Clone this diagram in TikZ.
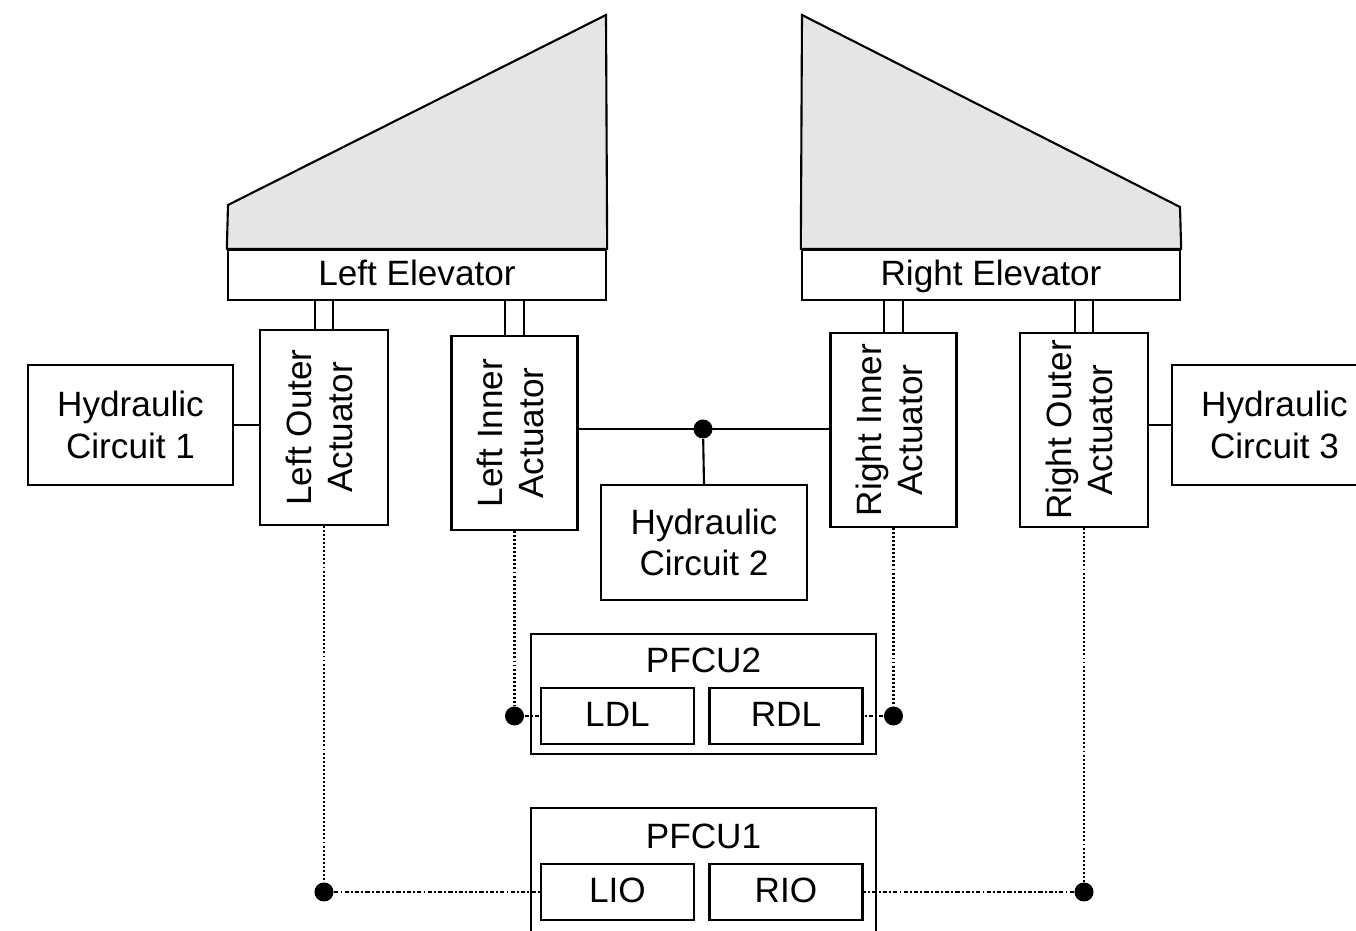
\documentclass[tikz,border=0pt]{standalone}
\usepackage{fontspec}
\setmainfont{Liberation Sans}
\usetikzlibrary{positioning,calc}

\newcommand{\vtext}[1]{\rotatebox{90}{\begin{tabular}{@{}c@{}}#1\end{tabular}}}

\begin{document}
\begin{tikzpicture}[x=0.01cm,y=-0.01cm,
	box/.style={draw, line width=0.6pt, align=center, inner sep=0pt, font=\fontsize{10}{11.7}\selectfont},
	act/.style={box, minimum width=1.26cm, minimum height=1.94cm},
	hyd/.style={box, minimum width=2.05cm, minimum height=1.2cm},
	elev/.style={box, minimum width=3.78cm, minimum height=0.5cm, text height=7.4pt, text depth=1.6pt},
	unit/.style={box, minimum width=1.53cm, minimum height=0.56cm, text height=7.4pt, text depth=1.6pt},
	txt/.style={inner sep=0pt, font=\fontsize{10}{11.7}\selectfont},
	dot/.style={circle, fill, inner sep=0pt, minimum size=1.9mm},
	rod/.style={double, double distance=1.6mm, line width=0.6pt},
	wire/.style={line width=0.6pt},
	sig/.style={line width=0.6pt, dash pattern=on 0.55pt off 0.6pt},
	bus/.style={line width=0.6pt, dash pattern=on 1.2pt off 0.6pt on 0.55pt off 0.6pt}]
	\clip (0,0) rectangle (1356,931);

	% elevators
	\node[elev] (LE) at (417,275) {Left Elevator};
	\node[elev] (RE) at (991,275) {Right Elevator};
	\draw[wire, fill=gray!20] (LE.north west) -- (228,205) -- (606,15) -- (LE.north east) -- cycle;
	\draw[wire, fill=gray!20] (RE.north west) -- (802,15) -- (1180,207) -- (RE.north east) -- cycle;

	% actuators
	\node[act, minimum width=1.28cm, minimum height=1.95cm] (LOA) at (324,427.5) {\vtext{Left Outer\\Actuator}};
	\node[act] (LIA) at (514.5,433) {\vtext{Left Inner\\Actuator}};
	\node[act] (RIA) at (893.5,430) {\vtext{Right Inner\\Actuator}};
	\node[act, minimum width=1.28cm] (ROA) at (1084,430) {\vtext{Right Outer\\Actuator}};

	% hydraulics
	\node[hyd] (HC1) at (130.5,425) {Hydraulic\\Circuit 1};
	\node[hyd, minimum width=2.06cm, minimum height=1.15cm] (HC2) at (704,542.5) {Hydraulic\\Circuit 2};
	\node[hyd] (HC3) at (1274.5,425) {Hydraulic\\Circuit 3};

	% control units
	\node[box, minimum width=3.45cm, minimum height=1.2cm] (PFCU2) at (703.5,694) {};
	\node[txt] (PFCU2t) at (703.5,660) {PFCU2};
	\node[unit] (LDL) at (617.5,716) {LDL};
	\node[unit] (RDL) at (786,716) {RDL};
	\node[box, minimum width=3.45cm, minimum height=1.24cm] (PFCU1) at (703.5,870) {};
	\node[txt] (PFCU1t) at (703.5,836) {PFCU1};
	\node[unit] (LIO) at (617.5,892) {LIO};
	\node[unit] (RIO) at (786,892) {RIO};

	% rods
	\draw[rod] (LOA.north) -- (LOA.north |- LE.south);
	\draw[rod] (LIA.north) -- (LIA.north |- LE.south);
	\draw[rod] (RIA.north) -- (RIA.north |- RE.south);
	\draw[rod] (ROA.north) -- (ROA.north |- RE.south);

	% hydraulic lines
	\node[dot] (J) at (703,429) {};
	\draw[wire] (HC1.east) -- (HC1.east -| LOA.west);
	\draw[wire] (HC3.west) -- (HC3.west -| ROA.east);
	\draw[wire] (LIA.east |- J) -- (RIA.west |- J);
	\draw[wire] (J) -- (HC2.north);

	% signal lines
	\node[dot] (DL) at (LIA.south |- LDL.west) {};
	\node[dot] (DR) at (RIA.south |- RDL.east) {};
	\node[dot] (DLO) at (LOA.south |- LIO.west) {};
	\node[dot] (DRO) at (ROA.south |- RIO.east) {};
	\draw[sig] (LIA.south) -- (DL);
	\draw[sig] (RIA.south) -- (DR);
	\draw[sig] (LOA.south) -- (DLO);
	\draw[sig] (ROA.south) -- (DRO);
	\draw[bus] (DL) -- (LDL.west);
	\draw[bus] (DR) -- (RDL.east);
	\draw[bus] (DLO) -- (LIO.west);
	\draw[bus] (DRO) -- (RIO.east);
\end{tikzpicture}
\end{document}
